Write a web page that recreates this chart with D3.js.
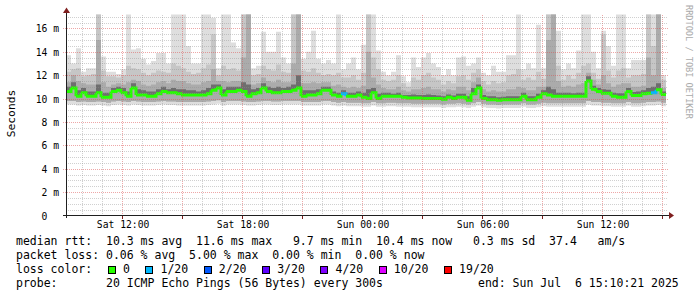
<!DOCTYPE html>
<html>
<head>
<meta charset="utf-8">
<script src="https://cdn.jsdelivr.net/npm/d3@7"></script>
<style>
body { margin: 0; background: #fff; }
text { font-family: "DejaVu Sans Mono", monospace; white-space: pre; }
</style>
</head>
<body>
<div id="chart"></div>
<script>
// time range of the graph, one bucket every 15 minutes
const startTime = new Date(2025, 6, 5, 9, 10, 21)
const endTime = new Date(2025, 6, 6, 15, 10, 21)
const stepMinutes = 15

// rtt values in ms
const rttMedian = [
  10.6,10.9,10.2,10.5,10.2,10.2,10.5,10.1,10.1,10.6,
  10.7,10.5,10.2,10.9,10.3,10.3,10.2,10.2,10.4,10.6,
  10.5,10.5,10.4,10.3,10.3,10.3,10.3,10.3,10.4,10.7,
  10.9,10.3,10.6,10.6,10.7,10.6,10.2,10.4,10.5,10.9,
  10.6,10.5,10.5,10.6,10.6,10.7,10.9,10.2,10.3,10.3,
  10.4,10.7,10.7,10.3,10.2,10.4,10.2,10.2,10.3,10.1,
  10.0,10.5,10.0,10.2,10.2,10.2,10.2,10.1,10.05,10.05,
  10.05,10.0,10.0,10.0,10.0,9.95,10.1,10.0,10.1,10.1,
  9.85,10.4,10.9,10.0,9.9,9.9,9.85,9.9,9.9,9.9,
  9.9,10.2,9.9,9.9,10.1,10.4,10.3,10.2,10.2,10.2,
  10.2,10.2,10.2,10.2,11.5,10.8,10.6,10.45,10.45,10.2,
  10.1,10.1,10.6,10.25,10.25,10.4,10.45,10.5,10.75,10.35
]
const rttMin = [
  9.5,9.5,9.4,9.45,9.4,9.4,9.45,9.4,9.35,9.45,
  9.5,9.45,9.4,9.5,9.45,9.4,9.4,9.4,9.45,9.5,
  9.45,9.45,9.4,9.4,9.4,9.4,9.4,9.4,9.45,9.5,
  9.55,9.4,9.5,9.5,9.5,9.45,9.4,9.4,9.45,9.5,
  9.5,9.45,9.45,9.5,9.5,9.5,9.5,9.4,9.4,9.4,
  9.4,9.5,9.5,9.4,9.35,9.4,9.35,9.35,9.35,9.3,
  9.3,9.4,9.3,9.3,9.35,9.35,9.3,9.3,9.3,9.25,
  9.25,9.25,9.25,9.25,9.25,9.2,9.25,9.25,9.3,9.25,
  9.2,9.3,9.4,9.25,9.2,9.2,9.15,9.2,9.2,9.2,
  9.2,9.3,9.2,9.2,9.25,9.35,9.3,9.3,9.3,9.3,
  9.3,9.3,9.3,9.3,9.5,9.4,9.4,9.35,9.35,9.3,
  9.3,9.3,9.4,9.3,9.3,9.35,9.4,9.4,9.45,9.35
]
const rttP25 = [
  9.8,9.8,9.7,9.75,9.7,9.7,9.75,9.7,9.65,9.75,
  9.8,9.75,9.7,9.8,9.75,9.7,9.7,9.7,9.75,9.8,
  9.75,9.75,9.7,9.7,9.7,9.7,9.7,9.7,9.75,9.8,
  9.85,9.7,9.8,9.8,9.8,9.75,9.7,9.7,9.75,9.8,
  9.8,9.75,9.75,9.8,9.8,9.8,9.8,9.7,9.7,9.7,
  9.7,9.8,9.8,9.7,9.65,9.7,9.65,9.65,9.65,9.6,
  9.6,9.7,9.6,9.6,9.65,9.65,9.6,9.6,9.6,9.55,
  9.55,9.55,9.55,9.55,9.55,9.5,9.55,9.55,9.6,9.55,
  9.5,9.6,9.7,9.55,9.5,9.5,9.45,9.5,9.5,9.5,
  9.5,9.6,9.5,9.5,9.55,9.65,9.6,9.6,9.6,9.6,
  9.6,9.6,9.6,9.6,9.8,9.7,9.7,9.65,9.65,9.6,
  9.6,9.6,9.7,9.6,9.6,9.65,9.7,9.7,9.75,9.65
]
const rttP60 = [
  11.0,11.4,10.7,10.9,10.6,10.6,11.2,10.5,10.5,10.9,
  11.0,10.9,10.6,11.3,10.8,10.7,10.6,10.6,10.8,11.0,
  10.8,10.9,10.8,10.8,10.7,10.7,10.6,10.7,10.9,11.2,
  11.2,10.8,11.0,11.0,11.0,11.4,11.2,10.8,10.9,11.3,
  11.0,10.9,11.0,10.9,11.0,11.2,12.0,10.7,10.7,10.7,
  10.8,11.0,11.0,10.6,10.5,10.7,10.5,10.5,10.6,10.5,
  10.8,10.9,10.4,10.5,10.5,10.4,10.5,10.3,10.3,10.35,
  10.3,10.3,10.35,10.3,10.25,10.2,10.35,10.25,10.4,10.4,
  10.2,10.9,11.2,10.3,10.2,10.2,10.1,10.15,10.2,10.2,
  10.2,10.5,10.2,10.2,10.4,10.7,11.0,10.8,10.5,10.5,
  10.5,10.45,10.5,10.5,11.9,11.1,10.9,10.8,10.75,10.5,
  10.45,10.45,10.9,10.55,10.6,10.7,10.9,11.0,11.3,10.6
]
const rttP75 = [
  11.4,12.0,11.5,11.3,11.2,11.2,15.0,11.4,11.0,11.2,
  11.3,11.2,11.4,11.6,11.5,11.2,11.1,11.2,11.4,11.5,
  11.3,11.6,11.5,11.5,11.3,11.2,11.2,11.4,11.5,12.5,
  11.5,11.5,11.4,11.5,11.5,13.5,17.5,11.2,11.3,11.8,
  11.5,11.4,11.6,11.4,11.4,13.0,17.5,11.3,11.3,11.4,
  11.3,11.4,11.4,11.1,11.2,11.0,10.9,11.0,10.9,11.1,
  14.0,11.8,11.2,10.9,10.8,10.8,11.0,10.7,10.6,10.8,
  10.8,10.9,11.0,10.8,10.8,10.6,10.8,10.7,11.0,11.0,
  10.7,11.4,11.8,10.8,10.6,10.7,10.6,10.6,10.8,10.8,
  11.0,10.9,10.7,10.7,11.0,11.0,15.0,17.5,11.5,11.0,
  11.1,11.0,11.2,11.3,12.2,11.6,11.2,12.0,11.3,11.0,
  11.2,11.3,11.3,11.0,11.0,11.1,13.5,12.0,17.5,10.9
]
const rttP90 = [
  12.3,12.5,12.6,11.9,12.0,12.1,17.5,12.4,11.9,11.9,
  11.8,12.0,12.8,12.6,12.5,12.2,12.0,12.2,12.4,12.3,
  12.2,13.0,12.8,12.6,12.3,12.1,12.2,12.6,12.9,15.5,
  12.0,12.8,12.5,12.6,12.4,17.5,17.5,12.0,12.1,12.8,
  12.5,12.4,12.9,12.3,12.2,17.5,17.5,12.4,12.3,12.6,
  12.2,12.0,12.1,12.0,12.2,11.8,11.8,12.0,11.6,12.2,
  17.5,13.5,12.5,11.6,11.5,11.6,12.0,11.3,11.0,11.8,
  11.6,12.0,12.2,11.8,11.6,11.2,11.5,11.3,11.9,12.0,
  11.6,12.2,12.5,11.5,11.2,11.5,11.3,11.4,12.0,12.1,
  12.5,11.6,11.8,11.6,12.3,11.7,17.5,17.5,12.8,11.6,
  12.0,11.7,12.2,12.8,13.0,12.2,11.7,15.5,12.4,11.8,
  12.4,12.6,11.8,12.0,12.0,12.1,17.5,14.5,17.5,11.6
]
const rttMax = [
  13.7,13.0,14.3,12.3,12.6,12.6,17.5,13.6,12.3,12.3,
  12.1,12.5,17.5,14.2,14.3,13.4,12.9,13.2,13.9,13.9,
  13.0,17.5,17.5,17.5,14.5,13.0,13.0,17.5,17.5,16.9,
  12.6,17.5,17.5,14.8,14.3,17.5,17.5,12.6,12.8,15.7,
  14.0,14.0,15.7,13.5,13.0,17.5,17.5,13.4,14.0,15.8,
  13.4,13.0,13.3,13.0,17.5,12.5,13.0,13.5,12.5,14.6,
  17.5,17.5,14.1,12.3,12.0,12.3,13.7,11.9,11.4,13.5,
  12.7,13.5,13.9,13.0,12.7,12.0,12.5,12.0,13.5,13.6,
  12.8,13.0,13.5,12.2,12.0,12.8,12.3,12.3,13.7,13.7,
  17.5,12.5,13.0,12.6,16.3,12.6,17.5,17.5,15.8,12.5,
  13.0,12.6,14.1,17.5,17.5,14.0,12.6,15.8,14.5,12.8,
  17.5,17.5,12.6,13.3,13.3,13.3,17.5,17.5,17.5,12.0
]
// lost pings out of 20 per bucket
const lossCount = [
  0,0,0,0,0,0,0,0,0,0, 0,0,0,0,0,0,0,0,0,0,
  0,0,0,0,0,0,0,0,0,0, 0,0,0,0,0,0,0,0,0,0,
  0,0,0,0,0,0,0,0,0,0, 0,0,0,0,0,1,0,0,0,0,
  0,0,0,0,0,0,0,0,0,0, 0,0,0,0,0,0,0,0,0,0,
  0,0,0,0,0,0,0,0,0,0, 0,0,0,0,0,0,0,0,0,0,
  0,0,0,0,0,0,0,0,0,0, 0,0,0,0,0,0,0,1,0,0
]

const lossSteps = [0, 1, 2, 3, 4, 10, 19]
const lossLabels = ["0", "1/20", "2/20", "3/20", "4/20", "10/20", "19/20"]
const lossColors = ["#26ff00", "#00b8ff", "#0059ff", "#5e00ff", "#7e00ff", "#dd00ff", "#ff0000"]

const yTicks = [0, 2, 4, 6, 8, 10, 12, 14, 16]

const legendLines = [
  "median rtt:  10.3 ms avg  11.6 ms max   9.7 ms min  10.4 ms now   0.3 ms sd  37.4   am/s",
  "packet loss: 0.06 % avg  5.00 % max  0.00 % min  0.00 % now"
]
const probeText = "probe:       20 ICMP Echo Pings (56 Bytes) every 300s"
const endText = "end: Sun Jul  6 15:10:21 2025"

// ------------------------------------------------------------
const W = 697, H = 297
const plotL = 66, plotR = 666, plotT = 15.5, plotB = 215.5

const svg = d3.select("#chart").append("svg")
    .attr("width", W).attr("height", H)

svg.append("rect").attr("width", W).attr("height", H).attr("fill", "#fff")

const x = d3.scaleTime().domain([startTime, endTime]).range([plotL, plotR])
const y = d3.scaleLinear().domain([0, 17.1]).range([plotB, plotT])

const pts = rttMedian.map(function(m, i) {
    return {
        t: new Date(+startTime + i * stepMinutes * 60000),
        min: rttMin[i], p25: rttP25[i], med: m, p60: rttP60[i],
        p75: rttP75[i], p90: rttP90[i], max: rttMax[i], loss: lossCount[i]
    }
})
// closing point so the last step reaches the end
pts.push(Object.assign({}, pts[pts.length - 1], { t: endTime }))

svg.append("clipPath").attr("id", "plot")
    .append("rect").attr("x", plotL).attr("y", plotT - 1)
    .attr("width", plotR - plotL).attr("height", plotB - plotT + 1)

const g = svg.append("g").attr("clip-path", "url(#plot)")

// smoke layers, light outside to dark inside
const smoke = [
    ["min", "max", "#dedede"],
    ["p25", "p90", "#c6c6c6"],
    ["p25", "p75", "#ababab"],
    ["med", "p60", "#6e6e6e"]
]
smoke.forEach(function(s) {
    const area = d3.area()
        .x(function(d) { return x(d.t) })
        .y0(function(d) { return y(d[s[0]]) })
        .y1(function(d) { return y(d[s[1]]) })
        .curve(d3.curveStepAfter)
    g.append("path").datum(pts).attr("d", area).attr("fill", s[2])
})

function lossColor(n) {
    let c = lossColors[0]
    lossSteps.forEach(function(s, k) { if (n >= s) c = lossColors[k] })
    return c
}

// median line, each step coloured by its loss
const line = d3.line()
for (let i = 0; i < pts.length - 1; i++) {
    const seg = [[x(pts[i].t), y(pts[i].med)], [x(pts[i + 1].t), y(pts[i].med)]]
    if (i < pts.length - 2) seg.push([x(pts[i + 1].t), y(pts[i + 1].med)])
    g.append("path").attr("d", line(seg))
        .attr("fill", "none")
        .attr("stroke", lossColor(pts[i].loss))
        .attr("stroke-width", 3)
}

// grid
const grid = svg.append("g").attr("shape-rendering", "crispEdges")
const hours = d3.timeHour.range(startTime, endTime)
hours.forEach(function(h) {
    const xx = Math.floor(x(h)) + 0.5
    const major = h.getHours() % 3 === 0
    grid.append("line")
        .attr("x1", xx).attr("x2", xx).attr("y1", plotT - 1).attr("y2", plotB)
        .attr("stroke", major ? "rgba(222,80,80,0.5)" : "rgba(143,143,143,0.42)")
        .attr("stroke-dasharray", "1,1")
    if (major)
        grid.append("line").attr("x1", xx).attr("x2", xx)
            .attr("y1", plotB).attr("y2", plotB + 3).attr("stroke", "#7f1f1f")
})
d3.range(0.5, 17.1, 0.5).forEach(function(v) {
    const yy = Math.round(y(v)) + 0.5
    const major = v % 2 === 0
    grid.append("line")
        .attr("x1", major ? plotL - 3 : plotL).attr("x2", plotR + 2)
        .attr("y1", yy).attr("y2", yy)
        .attr("stroke", major ? "rgba(222,80,80,0.5)" : "rgba(143,143,143,0.42)")
        .attr("stroke-dasharray", "1,1")
})

// axes lines and arrows
svg.append("line").attr("x1", plotL - 3).attr("x2", plotR + 4)
    .attr("y1", 215.5).attr("y2", 215.5).attr("stroke", "#1f1f1f")
    .attr("shape-rendering", "crispEdges")
svg.append("line").attr("x1", plotL + 0.5).attr("x2", plotL + 0.5)
    .attr("y1", 218).attr("y2", 12).attr("stroke", "#1f1f1f")
    .attr("shape-rendering", "crispEdges")
svg.append("path").attr("d", "M674,215.5L669,212L669,219Z").attr("fill", "#7f1f1f")
svg.append("path").attr("d", "M66.5,7.5L63,13L70,13Z").attr("fill", "#7f1f1f")

// x labels
const xAxis = d3.axisBottom(x)
    .tickValues(d3.timeHour.range(startTime, endTime).filter(function(d) { return d.getHours() % 6 === 0 }))
    .tickFormat(d3.timeFormat("%a %H:%M"))
    .tickSize(0).tickPadding(0)
const gx = svg.append("g").attr("transform", "translate(0,218)").call(xAxis)
gx.select(".domain").remove()
gx.selectAll("text").attr("font-family", "DejaVu Sans Mono").attr("font-size", "9.7px")
    .attr("fill", "#000").attr("dy", "0.71em").attr("y", 3)

// y labels
const yAxis = d3.axisLeft(y).tickValues(yTicks)
    .tickFormat(function(v) { return v === 0 ? "0  " : v + " m" })
    .tickSize(0).tickPadding(0)
const gy = svg.append("g").attr("transform", "translate(59,0.5)").call(yAxis)
gy.select(".domain").remove()
gy.selectAll("text").attr("font-family", "DejaVu Sans Mono").attr("font-size", "9.7px")
    .attr("fill", "#000").attr("xml:space", "preserve")

svg.append("text").attr("transform", "translate(14.5,113.5) rotate(-90)")
    .attr("text-anchor", "middle").attr("font-size", "11.3px").text("Seconds")

svg.append("text").attr("transform", "translate(685.5,5) rotate(90)")
    .attr("font-size", "8.6px").attr("fill", "#aaaaaa").text("RRDTOOL / TOBI OETIKER")

// legend
const charW = 6.96
legendLines.forEach(function(s, i) {
    svg.append("text").attr("x", 16).attr("y", 245 + i * 14)
        .attr("font-size", "11.5px").attr("xml:space", "preserve").text(s)
})
svg.append("text").attr("x", 16).attr("y", 273)
    .attr("font-size", "11.5px").text("loss color:")
let cursor = 108
lossLabels.forEach(function(lab, k) {
    svg.append("rect").attr("x", Math.round(cursor) + 0.5).attr("y", 266.5)
        .attr("width", 7).attr("height", 7)
        .attr("fill", lossColors[k]).attr("stroke", "#000")
        .attr("shape-rendering", "crispEdges")
    svg.append("text").attr("x", cursor + 15).attr("y", 273)
        .attr("font-size", "11.5px").text(lab)
    cursor = cursor + 15 + lab.length * charW + 15.5
})
svg.append("text").attr("x", 16).attr("y", 287)
    .attr("font-size", "11.5px").attr("xml:space", "preserve").text(probeText)
svg.append("text").attr("x", 478).attr("y", 287)
    .attr("font-size", "11.5px").attr("xml:space", "preserve").text(endText)
</script>
</body>
</html>
